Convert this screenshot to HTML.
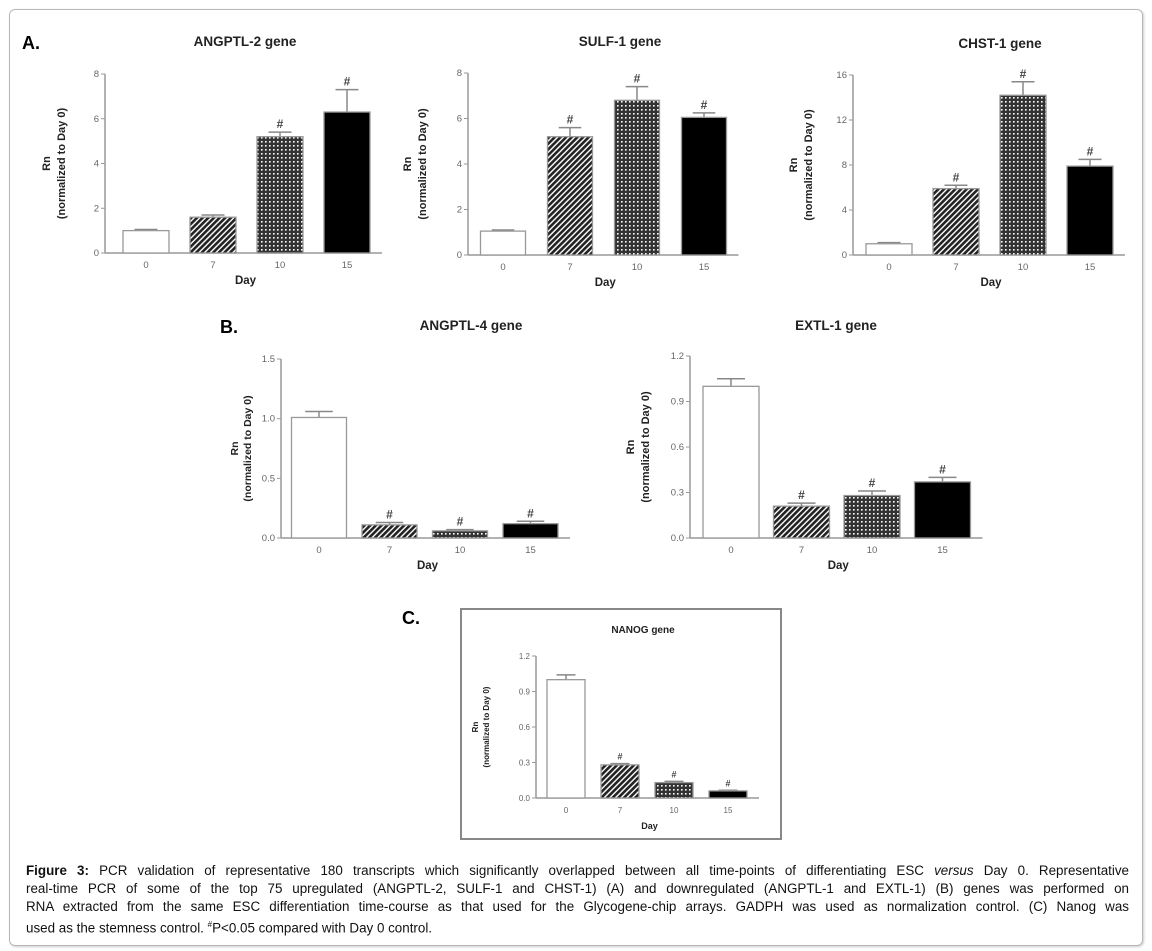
<!DOCTYPE html>
<html><head><meta charset="utf-8">
<style>
html,body{margin:0;padding:0;background:#fff;}
body{width:1152px;height:951px;position:relative;overflow:hidden;font-family:"Liberation Sans",Arial,sans-serif;}
#frame{position:absolute;left:9px;top:9px;width:1132px;height:935px;border:1px solid #b8b8b8;border-radius:6px;box-shadow:1px 1px 2px #ccc;}
#caption{position:absolute;left:26px;top:862px;width:1103px;font-size:13.4px;line-height:18px;color:#111;}
#caption div{text-align:justify;text-align-last:justify;white-space:nowrap;}
#caption div.last{text-align-last:left;}
svg{position:absolute;left:0;top:0;}
</style></head>
<body>
<div id="frame"></div>
<svg id="fig" width="1152" height="951">
<defs>
<pattern id="hatch" width="4" height="4" patternUnits="userSpaceOnUse" patternTransform="rotate(45)">
<rect width="4" height="4" fill="#fff"/><rect width="2.6" height="4" fill="#222"/></pattern>
<pattern id="check" width="4" height="4" patternUnits="userSpaceOnUse">
<rect width="4" height="4" fill="#333"/><rect x="1" y="1" width="1.6" height="1.6" fill="#fff"/></pattern>
</defs>
<text x="22" y="49" font-size="18" font-weight="bold">A.</text>
<text x="220" y="333" font-size="18" font-weight="bold">B.</text>
<text x="402" y="624" font-size="18" font-weight="bold">C.</text>
<rect x="461" y="609" width="320" height="230" fill="none" stroke="#888" stroke-width="2"/>
</svg>
<div id="caption">
<div><b>Figure 3:</b> PCR validation of representative 180 transcripts which significantly overlapped between all time-points of differentiating ESC <i>versus</i> Day 0. Representative</div>
<div>real-time PCR of some of the top 75 upregulated (ANGPTL-2, SULF-1 and CHST-1) (A) and downregulated (ANGPTL-1 and EXTL-1) (B) genes was performed on</div>
<div>RNA extracted from the same ESC differentiation time-course as that used for the Glycogene-chip arrays. GADPH was used as normalization control. (C) Nanog was</div>
<div class="last">used as the stemness control. <sup style="font-size:8px">#</sup>P&lt;0.05 compared with Day 0 control.</div>
</div>
<script>
const days = ["0","7","10","15"];
const angptl2 = [1.0, 1.6, 5.2, 6.3];
const angptl2Err = [0.05, 0.1, 0.2, 1.0];
const sulf1 = [1.05, 5.2, 6.8, 6.05];
const sulf1Err = [0.05, 0.4, 0.6, 0.2];
const chst1 = [1.0, 5.9, 14.2, 7.9];
const chst1Err = [0.1, 0.3, 1.2, 0.6];
const angptl4 = [1.01, 0.11, 0.06, 0.12];
const angptl4Err = [0.05, 0.02, 0.01, 0.02];
const extl1 = [1.0, 0.21, 0.28, 0.37];
const extl1Err = [0.05, 0.02, 0.03, 0.03];
const nanog = [1.0, 0.28, 0.13, 0.06];
const nanogErr = [0.04, 0.01, 0.01, 0.005];
const sig = [false, true, true, true];
const sigA2 = [false, false, true, true];
const ticksA12 = ["0","2","4","6","8"];
const ticksA3 = ["0","4","8","12","16"];
const ticksB1 = ["0.0","0.5","1.0","1.5"];
const ticks12 = ["0.0","0.3","0.6","0.9","1.2"];

const svg = document.getElementById('fig');
const NS = 'http://www.w3.org/2000/svg';
const fills = ['#fff','url(#hatch)','url(#check)','#000'];
function mk(tag, attrs, parent){const e=document.createElementNS(NS,tag);for(const k in attrs)e.setAttribute(k,attrs[k]);(parent||svg).appendChild(e);return e;}

function chart(c){
  const g = mk('g',{});
  
  
  const ymax = parseFloat(c.ticks[c.ticks.length-1]);
  const y = v => c.y0 - (v/ymax)*(c.y0-c.yTop);
  const xc = i => c.x0 + i*c.step;
  const fs = c.small ? 8 : 9.5;
  const t = mk('text',{x:c.titleX,y:c.titleY,'font-size':c.small?10:13.5,'font-weight':'bold','text-anchor':'middle',fill:'#222'},g);
  t.textContent = c.title;
  
  
  const right = xc(3)+c.bw/2+12;
  mk('line',{x1:c.ax,y1:c.y0,x2:c.ax,y2:c.yTop,stroke:'#999','stroke-width':1.5},g);
  mk('line',{x1:c.ax,y1:c.y0,x2:right,y2:c.y0,stroke:'#999','stroke-width':1.5},g);
  c.ticks.forEach(tk=>{
    const yy = y(parseFloat(tk));
    mk('line',{x1:c.ax-4,y1:yy,x2:c.ax,y2:yy,stroke:'#999','stroke-width':1},g);
    const l = mk('text',{x:c.ax-6,y:yy+3,'font-size':fs,'text-anchor':'end',fill:'#666'},g);
    l.textContent = tk;
    
    
  });
  c.vals.forEach((v,i)=>{
    const e = c.err[i];
    mk('line',{x1:xc(i),y1:y(v),x2:xc(i),y2:y(v+e),stroke:'#888','stroke-width':1.5},g);
    mk('line',{x1:xc(i)-c.bw/4,y1:y(v+e),x2:xc(i)+c.bw/4,y2:y(v+e),stroke:'#888','stroke-width':1.5},g);
    const b = mk('rect',{x:xc(i)-c.bw/2,y:y(v),width:c.bw,height:c.y0-y(v),fill:fills[i],stroke:'#999','stroke-width':1.3},g);
    
    
    if(c.sig[i]){
      const s = mk('text',{x:xc(i),y:y(v+e)-4,'font-size':c.small?9:12,'font-weight':'bold','text-anchor':'middle',fill:'#444'},g);
      s.textContent = '#';
      
      
    }
    const xl = mk('text',{x:xc(i),y:c.y0+15,'font-size':fs,'text-anchor':'middle',fill:'#666'},g);
    xl.textContent = days[i];
    
    
  });
  const xt = mk('text',{x:(c.ax+right)/2+2,y:c.y0+31,'font-size':c.small?9:11.5,'font-weight':'bold','text-anchor':'middle',fill:'#222'},g);
  xt.textContent = 'Day';
  
  
  const my = (c.y0+c.yTop)/2;
  const yfs = c.small ? 8 : (c.yfs || 11);
  const yt = mk('text',{x:0,y:0,'font-size':yfs,'font-weight':'bold','text-anchor':'middle',fill:'#222',transform:`translate(${c.rnX},${my}) rotate(-90)`},g);
  yt.textContent = 'Rn';
  
  
  const yt2 = mk('text',{x:0,y:0,'font-size':yfs,'font-weight':'bold','text-anchor':'middle',fill:'#222',transform:`translate(${c.rnX+(c.small?11:(c.gap||15))},${my}) rotate(-90)`},g);
  yt2.textContent = '(normalized to  Day 0)';
  
  
}

chart({name:'angptl2-chart',title:'ANGPTL-2 gene',titleX:245,titleY:46,vals:angptl2,err:angptl2Err,sig:sigA2,ticks:ticksA12,ax:105,y0:253,yTop:74,x0:146,step:67,bw:46,rnX:50});
chart({name:'sulf1-chart',title:'SULF-1 gene',titleX:620,titleY:46,vals:sulf1,err:sulf1Err,sig:sig,ticks:ticksA12,ax:468,y0:255,yTop:73,x0:503,step:67,bw:45,rnX:411});
chart({name:'chst1-chart',title:'CHST-1 gene',titleX:1000,titleY:48,vals:chst1,err:chst1Err,sig:sig,ticks:ticksA3,ax:853,y0:255,yTop:75,x0:889,step:67,bw:46,rnX:797});
chart({name:'angptl4-chart',title:'ANGPTL-4 gene',titleX:471,titleY:330,vals:angptl4,err:angptl4Err,sig:sig,ticks:ticksB1,ax:281,y0:538,yTop:359,x0:319,step:70.5,bw:55,rnX:238,gap:13,yfs:10.5});
chart({name:'extl1-chart',title:'EXTL-1 gene',titleX:836,titleY:330,vals:extl1,err:extl1Err,sig:sig,ticks:ticks12,ax:690,y0:538,yTop:356,x0:731,step:70.5,bw:56,rnX:634});
chart({name:'nanog-chart',title:'NANOG gene',titleX:643,titleY:633,vals:nanog,err:nanogErr,sig:sig,ticks:ticks12,ax:536,y0:798,yTop:656,x0:566,step:54,bw:38,rnX:478,small:true});
</script>
</body></html>
